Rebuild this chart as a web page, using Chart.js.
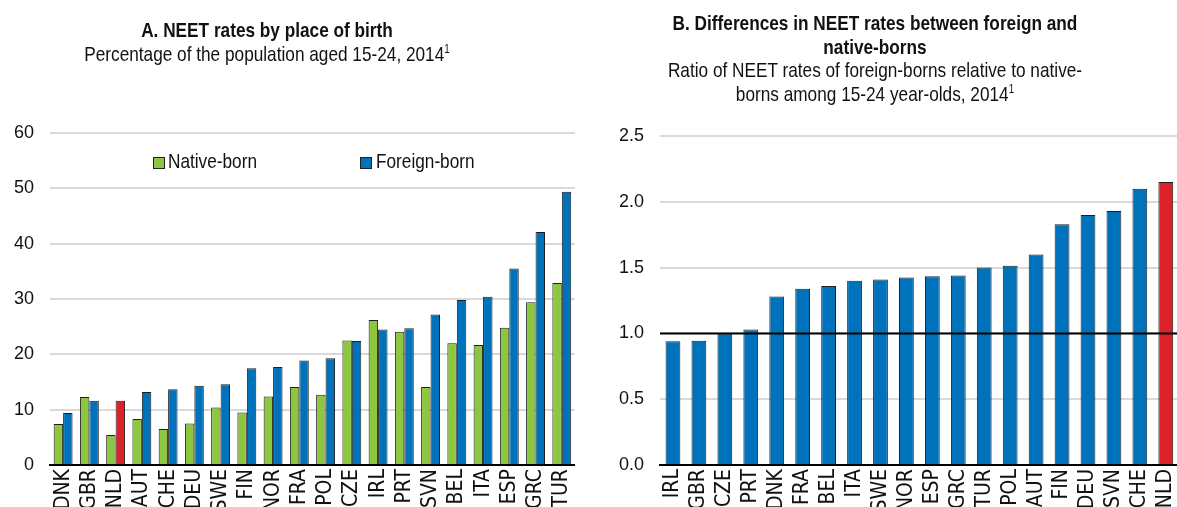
<!DOCTYPE html>
<html lang="en">
<head>
  <meta charset="UTF-8" />
  <title>NEET rates by place of birth</title>
  <script src="https://cdn.jsdelivr.net/npm/chart.js"></script>
  <style>
    body { margin: 0; width: 1177px; height: 507px; overflow: hidden; background: #fff; position: relative;
           font-family: 'Liberation Sans', Arial, sans-serif; color: #111; }
    .box { position: absolute; top: 0; }
    .ttl { position: absolute; text-align: center; font-size: 21px; line-height: 23.5px; white-space: nowrap;
           transform: scaleX(0.82); transform-origin: 50% 0; }
    .ttl b { display: block; }
    .ttl sup { font-size: 12px; vertical-align: 8px; line-height: 0; }
    .sq { position: absolute; top: 157px; width: 10px; height: 10px; border: 1px solid #222; }
    .lg { position: absolute; top: 149px; font-size: 21px; line-height: 23.5px; white-space: nowrap;
          transform: scaleX(0.82); transform-origin: 0 0; }
  </style>
</head>
<body>
  <div class="box" style="left:0;width:591px;height:530px"><canvas id="chartA"></canvas></div>
  <div class="box" style="left:580px;width:615px;height:530px"><canvas id="chartB"></canvas></div>

  <div class="ttl" style="left:17px;width:500px;top:18px">
    <b>A. NEET rates by place of birth</b>
    Percentage of the population aged 15-24, 2014<sup>1</sup>
  </div>
  <div class="ttl" style="left:575px;width:600px;top:11px">
    <b>B. Differences in NEET rates between foreign and</b>
    <b>native-borns</b>
    Ratio of NEET rates of foreign-borns relative to native-<br>borns among 15-24 year-olds, 2014<sup>1</sup>
  </div>

  <div class="sq" style="left:153px;background:#8dc63f"></div>
  <div class="lg" style="left:168px">Native-born</div>
  <div class="sq" style="left:360px;background:#0072bb"></div>
  <div class="lg" style="left:376px">Foreign-born</div>

  <script>
    // panel A
    const countriesA = ['DNK','GBR','NLD','AUT','CHE','DEU','SWE','FIN','NOR','FRA','POL','CZE','IRL','PRT','SVN','BEL','ITA','ESP','GRC','TUR'];
    const nativeBorn = [7.4, 12.3, 5.4, 8.3, 6.5, 7.5, 10.4, 9.5, 12.4, 14.1, 12.7, 22.5, 26.2, 24.1, 14.1, 22.0, 21.7, 24.8, 29.4, 32.9];
    const foreignBorn = [9.4, 11.6, 11.6, 13.2, 13.7, 14.3, 14.6, 17.5, 17.7, 18.9, 19.3, 22.4, 24.5, 24.7, 27.2, 29.8, 30.4, 35.5, 42.1, 49.4];
    const ticksA = [0, 10, 20, 30, 40, 50, 60];

    // panel B
    const countriesB = ['IRL','GBR','CZE','PRT','DNK','FRA','BEL','ITA','SWE','NOR','ESP','GRC','TUR','POL','AUT','FIN','DEU','SVN','CHE','NLD'];
    const ratioB = [0.94, 0.945, 1.0, 1.03, 1.28, 1.34, 1.36, 1.40, 1.41, 1.425, 1.435, 1.44, 1.50, 1.515, 1.60, 1.83, 1.90, 1.93, 2.10, 2.15];
    const ticksB = [0, 0.5, 1.0, 1.5, 2.0, 2.5];

    const GREEN = '#8dc63f', BLUE = '#0072bb', RED = '#dc2228', GRID = '#d9d9d9', EDGE = '#1e1e1e';
    Chart.defaults.font.family = "'Liberation Sans', Arial, sans-serif";
    Chart.defaults.color = '#111';

    function xAxis(height) {
      return {
        grid: { display: false, drawTicks: false },
        border: { color: '#000', width: 2 },
        ticks: { minRotation: 90, maxRotation: 90, autoSkip: false, padding: 4,
                 font: { size: 21, family: "'DejaVu Sans Condensed', 'Liberation Sans', sans-serif" } },
        afterFit: s => { s.height = height; }
      };
    }

    function yAxis(ticks, width, fmt) {
      return {
        min: ticks[0], max: ticks[ticks.length - 1],
        afterBuildTicks: s => { s.ticks = ticks.map(v => ({ value: v })); },
        grid: { color: GRID, lineWidth: 2, drawTicks: false },
        border: { display: false },
        ticks: { padding: 16, font: { size: 18 }, callback: v => fmt(v) },
        afterFit: s => { s.width = width; }
      };
    }

    new Chart(document.getElementById('chartA'), {
      type: 'bar',
      data: {
        labels: countriesA,
        datasets: [
          { label: 'Native-born', data: nativeBorn, backgroundColor: GREEN, borderColor: EDGE, borderWidth: 1 },
          { label: 'Foreign-born', data: foreignBorn, backgroundColor: countriesA.map(c => c === 'NLD' ? RED : BLUE), borderColor: EDGE, borderWidth: 1 }
        ]
      },
      options: {
        responsive: true, maintainAspectRatio: false, animation: false,
        layout: { padding: { top: 133, right: 0, left: 0, bottom: 0 } },
        categoryPercentage: 0.72, barPercentage: 1.0,
        plugins: { legend: { display: false }, tooltip: { enabled: false } },
        scales: { x: xAxis(65), y: yAxis(ticksA, 50, v => v) }
      }
    });

    // black reference line at 1.0, drawn above the bars
    const refLine = {
      id: 'refLine',
      afterDatasetsDraw(chart) {
        const { ctx, chartArea: a, scales: { y } } = chart;
        const py = y.getPixelForValue(1);
        ctx.save();
        ctx.strokeStyle = '#000';
        ctx.lineWidth = 2;
        ctx.beginPath();
        ctx.moveTo(a.left, py);
        ctx.lineTo(a.right, py);
        ctx.stroke();
        ctx.restore();
      }
    };

    new Chart(document.getElementById('chartB'), {
      type: 'bar',
      data: {
        labels: countriesB,
        datasets: [
          { label: 'Ratio', data: ratioB, backgroundColor: countriesB.map(c => c === 'NLD' ? RED : BLUE), borderColor: EDGE, borderWidth: 1 }
        ]
      },
      options: {
        responsive: true, maintainAspectRatio: false, animation: false,
        layout: { padding: { top: 136, right: 0, left: 0, bottom: 0 } },
        categoryPercentage: 0.57, barPercentage: 1.0,
        plugins: { legend: { display: false }, tooltip: { enabled: false } },
        scales: { x: xAxis(65), y: yAxis(ticksB, 80, v => v.toFixed(1)) }
      },
      plugins: [refLine]
    });
  </script>
</body>
</html>
